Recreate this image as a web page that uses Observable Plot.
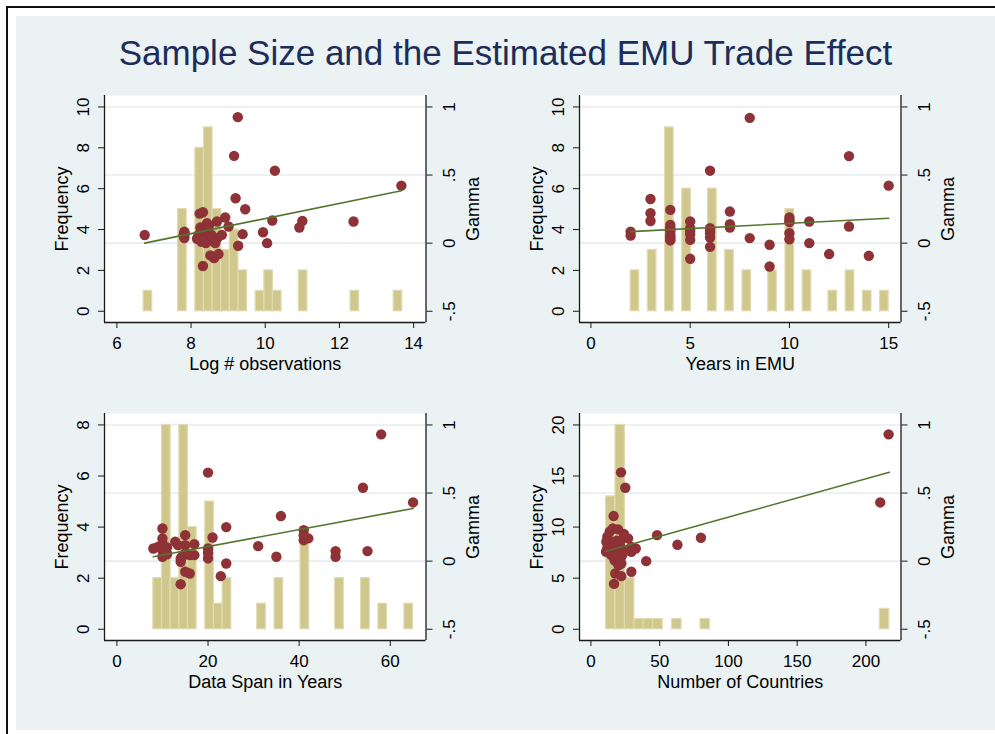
<!DOCTYPE html>
<html>
<head>
<meta charset="utf-8">
<script src="https://cdn.jsdelivr.net/npm/d3@7"></script>
<script src="https://cdn.jsdelivr.net/npm/@observablehq/plot@0.6"></script>
<style>
  body { margin: 0; background: #fff; font-family: "Liberation Sans", Arial, sans-serif; }
  #page { position: relative; width: 995px; height: 734px; overflow: hidden; background: #fff; }
  #border { position: absolute; left: 6px; top: 6px; width: 1100px; height: 900px; border-left: 2px solid #111; border-top: 2px solid #111; }
  #bg { position: absolute; left: 16px; top: 16px; width: 979px; height: 714px; background: #eaf2f3; }
  #title { position: absolute; left: 16px; width: 979px; top: 35px; line-height: 35px; text-align: center;
           font-size: 35px; color: #1c2d5a; white-space: nowrap; }
  .panel { position: absolute; }
</style>
</head>
<body>
<div id="page">
  <div id="border"></div>
  <div id="bg"></div>
  <div id="title">Sample Size and the Estimated EMU Trade Effect</div>
</div>
<script>
// ---------------- DATA ----------------
const chartTitle = "Sample Size and the Estimated EMU Trade Effect";

// right axis (Gamma), shared by all panels
const gammaTicks = [-0.5, 0, 0.5, 1];
const gammaTickLabels = ["-.5", "0", ".5", "1"];
const gammaGrid = [0, 0.5, 1];

// Panel 1: Log # observations
const logObsLabel = "Log # observations";
const logObsTicks = [6, 8, 10, 12, 14];
const logObsFreqTicks = [0, 2, 4, 6, 8, 10];
const logObsBinStart = 6.72;
const logObsBinWidth = 0.2325;
const logObsCounts = [1,0,0,0,5,0,8,9,5,3,4,2,0,1,2,1,0,0,2,0,0,0,0,0,1,0,0,0,0,1];
const logObsPoints = [
  [6.75,0.06],
  [7.82,0.085],[7.82,0.037],[7.80,0.06],[7.83,0.07],[7.81,0.05],
  [8.16,0.032],[8.23,0.217],[8.32,0.227],[8.25,0.115],[8.32,-0.168],[8.28,0.01],[8.20,0.06],[8.30,0.10],
  [8.43,0.146],[8.52,-0.09],[8.40,0.0],[8.45,0.09],[8.50,0.02],[8.55,0.06],[8.38,0.05],[8.48,0.13],[8.56,0.04],
  [8.62,-0.11],[8.74,-0.08],[8.70,0.159],[8.71,0.037],[8.65,0.0],
  [8.92,0.188],[9.01,0.122],[8.83,0.061],
  [9.16,0.641],[9.20,0.33],[9.26,0.925],[9.27,-0.019],
  [9.39,0.066],[9.46,0.249],
  [9.94,0.08],
  [10.05,0.0],[10.19,0.166],
  [10.26,0.532],
  [10.92,0.115],[11.0,0.163],
  [12.38,0.159],
  [13.67,0.422]
];
const logObsFit = [[6.75, 0.0], [13.67, 0.385]];

// Panel 2: Years in EMU
const yearsLabel = "Years in EMU";
const yearsTicks = [0, 5, 10, 15];
const yearsFreqTicks = [0, 2, 4, 6, 8, 10];
const yearsBinStart = 2;
const yearsBinWidth = 13 / 30;
const yearsCounts = [2,0,3,0,9,0,6,0,0,6,0,3,0,2,0,0,2,0,5,0,2,0,0,1,0,2,0,1,0,1];
const yearsPoints = [
  [2,0.085],[2,0.056],
  [3,0.324],[3,0.22],[3,0.163],
  [4,0.244],[4,0.134],[4,0.085],[4,0.049],[4,0.02],[4,0.11],[4,0.06],[4,0.10],[4,0.03],
  [5,0.159],[5,0.11],[5,0.066],[5,0.024],[5,-0.115],[5,0.09],
  [6,0.532],[6,0.11],[6,0.073],[6,0.041],[6,-0.027],[6,0.09],
  [7,0.232],[7,0.139],[7,0.115],
  [8,0.92],[8,0.037],
  [9,-0.012],[9,-0.171],
  [10,0.188],[10,0.154],[10,0.073],[10,0.029],[10,0.166],
  [11,0.159],[11,0.0],
  [12,-0.08],
  [13,0.639],[13,0.122],
  [14,-0.093],
  [15,0.422]
];
const yearsFit = [[2, 0.085], [15, 0.183]];

// Panel 3: Data Span in Years
const spanLabel = "Data Span in Years";
const spanTicks = [0, 20, 40, 60];
const spanFreqTicks = [0, 2, 4, 6, 8];
const spanBinStart = 8;
const spanBinWidth = 1.9;
const spanCounts = [2,8,2,8,4,0,5,1,2,0,0,0,1,0,2,0,0,4,0,0,0,2,0,0,2,0,1,0,0,1];
const spanPoints = [
  [8,0.093],[9,0.105],
  [10,0.24],[10,0.167],[10,0.13],[10,0.032],[10,0.08],[11,0.056],[11,0.05],[11,0.10],
  [12.8,0.142],[13.4,0.118],
  [14,-0.005],[14,-0.169],[14.3,0.032],[15,0.191],[15,0.118],[15,-0.078],[15,0.056],[14,0.02],
  [16,-0.091],[16,0.044],[17,0.125],[17,0.044],
  [20,0.65],[20,0.093],[20,0.02],[21,0.174],[20,0.06],
  [22.8,-0.11],
  [24,0.25],[24,-0.017],
  [31,0.11],
  [35,0.032],[36,0.331],
  [41,0.228],[41,0.154],[42,0.167],[41,0.19],
  [48,0.074],[48,0.032],
  [54,0.539],[55,0.074],
  [58,0.931],
  [65,0.431]
];
const spanFit = [[8, 0.032], [65, 0.387]];

// Panel 4: Number of Countries
const countriesLabel = "Number of Countries";
const countriesTicks = [0, 50, 100, 150, 200];
const countriesFreqTicks = [0, 5, 10, 15, 20];
const countriesBinStart = 11;
const countriesBinWidth = 206 / 30;
const countriesCounts = [13,20,5,1,1,1,0,1,0,0,1,0,0,0,0,0,0,0,0,0,0,0,0,0,0,0,0,0,0,2];
const countriesPoints = [
  [11.9,0.179],[13.6,0.216],[11.2,0.142],[11,0.069],[14.8,0.044],[16.5,0.331],[16,0.24],
  [17.2,0.142],[17.2,0.007],[17.7,-0.091],[16.8,-0.167],[12,0.10],[15,0.08],
  [21.9,0.652],[19.7,0.233],[24.5,0.179],[20.9,0.105],[22.1,0.032],[22.1,-0.017],[22.1,-0.11],
  [20,0.06],[21,0.12],[19,0.15],[23,0.08],[18,0.0],[20,0.02],[22,0.09],[19,0.04],[21,0.14],
  [23,0.05],[18.5,0.10],[24,0.20],[20,-0.03],
  [25,0.539],[27,0.167],[29.4,0.105],[29.4,0.069],[29.4,-0.078],
  [32.6,0.093],
  [40.2,0.0],
  [48.1,0.191],
  [62.9,0.12],
  [80,0.172],
  [210.4,0.431],[216.5,0.931]
];
const countriesFit = [[11, 0.073], [217, 0.652]];

// ---------------- LAYOUT ----------------
const FONT = "Liberation Sans, Arial, Helvetica, sans-serif";
const W = 460, H = 310;
const M = {left: 64, right: 74.5, top: 10, bottom: 73};
const panels = [
  {left: 40,    top: 85,  xLabel: logObsLabel,    xTicks: logObsTicks,    fTicks: logObsFreqTicks,    xDomain: [5.666, 14.334],
   binStart: logObsBinStart, binWidth: logObsBinWidth, counts: logObsCounts, points: logObsPoints, fit: logObsFit},
  {left: 514.5, top: 85,  xLabel: yearsLabel,     xTicks: yearsTicks,     fTicks: yearsFreqTicks,     xDomain: [-0.576, 15.62],
   binStart: yearsBinStart, binWidth: yearsBinWidth, counts: yearsCounts, points: yearsPoints, fit: yearsFit},
  {left: 40,    top: 403, xLabel: spanLabel,      xTicks: spanTicks,      fTicks: spanFreqTicks,      xDomain: [-2.72, 67.84],
   binStart: spanBinStart, binWidth: spanBinWidth, counts: spanCounts, points: spanPoints, fit: spanFit},
  {left: 514.5, top: 403, xLabel: countriesLabel, xTicks: countriesTicks, fTicks: countriesFreqTicks, xDomain: [-8.31, 225.5],
   binStart: countriesBinStart, binWidth: countriesBinWidth, counts: countriesCounts, points: countriesPoints, fit: countriesFit}
];

const BAR_FILL = "#cfc78c", BAR_STROKE = "#e1dbb2";
const DOT = "#8e3237", FIT = "#55752f", AXIS = "#1a1a1a", GRID = "#e4edf0";

const page = document.getElementById("page");
document.getElementById("title").textContent = chartTitle;

for (const p of panels) {
  const fMax = p.fTicks[p.fTicks.length - 1];
  const gMin = gammaTicks[0], gMax = gammaTicks[gammaTicks.length - 1];
  const toF = g => (g - gMin) / (gMax - gMin) * fMax;
  const yDomain = [-0.055 * fMax, 1.056 * fMax];
  const bins = p.counts.map((c, i) => ({x1: p.binStart + i * p.binWidth, x2: p.binStart + (i + 1) * p.binWidth, c}))
                       .filter(d => d.c > 0);
  const tick = {fontSize: 17, fill: "#000", fontFamily: FONT};
  const ttl = {fontSize: 18, fill: "#000", fontFamily: FONT};

  const chart = Plot.plot({
    width: W, height: H,
    marginLeft: M.left, marginRight: M.right, marginTop: M.top, marginBottom: M.bottom,
    style: {background: "transparent", fontFamily: FONT, fontSize: "17px", color: "#000", overflow: "visible"},
    x: {domain: p.xDomain},
    y: {domain: yDomain},
    marks: [
      Plot.frame({fill: "white", stroke: "none"}),
      Plot.ruleY(gammaGrid, {y: d => toF(d), stroke: GRID, strokeWidth: 1.6}),
      Plot.rectY(bins, {x1: "x1", x2: "x2", y1: 0, y2: "c", fill: BAR_FILL, stroke: BAR_STROKE, strokeWidth: 1.2}),
      Plot.dot(p.points, {x: d => d[0], y: d => toF(d[1]), r: 5.2, fill: DOT, stroke: "none"}),
      Plot.line(p.fit, {x: d => d[0], y: d => toF(d[1]), stroke: FIT, strokeWidth: 1.6}),
      // axis lines
      Plot.ruleX([p.xDomain[0], p.xDomain[1]], {stroke: AXIS, strokeWidth: 1.3}),
      Plot.ruleY([yDomain[0]], {stroke: AXIS, strokeWidth: 1.3}),
      // ticks
      Plot.axisY({anchor: "left", ticks: p.fTicks, tickSize: 6, fill: "none", stroke: AXIS, label: null}),
      Plot.axisY({anchor: "right", ticks: gammaTicks.map(toF), tickSize: 6, fill: "none", stroke: AXIS, label: null}),
      Plot.axisX({ticks: p.xTicks, tickSize: 6, tickPadding: 8, stroke: AXIS, fill: "#000", fontSize: 17, label: null}),
      // rotated y tick labels
      Plot.text(p.fTicks, {y: d => d, text: d => String(d), frameAnchor: "left", dx: -15.5, rotate: -90,
                           textAnchor: "middle", lineAnchor: "bottom", ...tick}),
      Plot.text(gammaTicks, {y: d => toF(d), text: (d, i) => gammaTickLabels[i], frameAnchor: "right", dx: 28.5, rotate: -90,
                             textAnchor: "middle", lineAnchor: "bottom", ...tick}),
      // axis titles
      Plot.text(["Frequency"], {frameAnchor: "left", dx: -37, rotate: -90, textAnchor: "middle", lineAnchor: "bottom", ...ttl}),
      Plot.text(["Gamma"], {frameAnchor: "right", dx: 53, rotate: -90, textAnchor: "middle", lineAnchor: "bottom", ...ttl}),
      Plot.text([p.xLabel], {frameAnchor: "bottom", dy: 47, textAnchor: "middle", lineAnchor: "bottom", ...ttl})
    ]
  });
  const div = document.createElement("div");
  div.className = "panel";
  div.style.left = p.left + "px";
  div.style.top = p.top + "px";
  div.style.width = W + "px";
  div.style.height = H + "px";
  div.appendChild(chart);
  page.appendChild(div);
}
</script>
</body>
</html>
